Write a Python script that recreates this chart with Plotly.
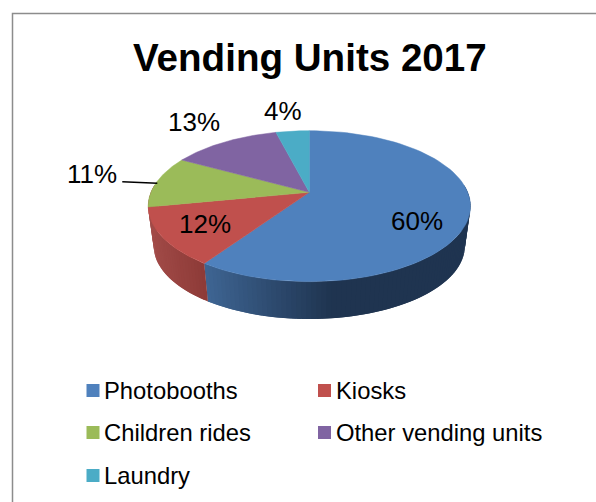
import numpy as np
import plotly.graph_objects as go

# =====================================================
# VENDING UNITS 2017 - 3D style pie
# =====================================================
categories = ['Photobooths', 'Kiosks', 'Children rides', 'Other vending units', 'Laundry']
shares = [59.5, 12.4, 11.1, 13, 4]
colors = ['#4f81bd', '#c0504d', '#9bbb59', '#8064a2', '#4bacc6']
pct_labels = ['60%', '12%', '11%', '13%', '4%']

FONT = 'Liberation Sans'

# pie projection, in page pixels
CX, CY = 309.3, 192.3
A, B, K = 158.4, 72.9, 0.184
RING_CY = 206.0
BASE_SCALE, BASE_DROP = 0.965, 40.0


def top_ring(deg):
    t = np.radians(deg)
    u, v = np.sin(t), np.cos(t)
    w = 1 + K * v
    return CX + A * u / w, CY - B * v / w


def base_ring(deg):
    x, y = top_ring(deg)
    return CX + BASE_SCALE * (x - CX), RING_CY + BASE_DROP + BASE_SCALE * (y - RING_CY)


def mix(c1, c2, f):
    f = min(max(f, 0), 1)
    return 'rgb(%d,%d,%d)' % tuple(c1[i] + (c2[i] - c1[i]) * f for i in range(3))


fig = go.Figure()

edges = np.cumsum([0] + shares) * 3.6


def add_wall(start, stop, c_from, c_to, x_from, x_span):
    # thin overlapping strips so the shading runs left to right without seams
    stops = np.linspace(start, stop, int((stop - start) / 1.5) + 1)
    for j in range(len(stops) - 1):
        a0, a1 = stops[j], stops[min(j + 2, len(stops) - 1)]
        arc = np.linspace(a0, a1, 4)
        xt, yt = top_ring(arc)
        xb, yb = base_ring(arc[::-1])
        c = mix(c_from, c_to, (xt[0] - x_from) / x_span)
        fig.add_trace(go.Scatter(
            x=np.concatenate([xt, xb, xt[:1]]), y=np.concatenate([yt, yb, yt[:1]]),
            mode='lines', fill='toself', fillcolor=c,
            line=dict(color=c, width=0), hoverinfo='skip', showlegend=False
        ))


add_wall(84, edges[1], (31, 52, 80), (63, 102, 148), 335, -130)
add_wall(edges[1], 276, (142, 59, 56), (162, 75, 72), 205, -55)

# top face
for i, cat in enumerate(categories):
    angles = np.linspace(edges[i], edges[i + 1], 80)
    xs, ys = top_ring(angles)
    fig.add_trace(go.Scatter(
        x=np.concatenate([[CX], xs, [CX]]), y=np.concatenate([[CY], ys, [CY]]),
        mode='lines', fill='toself', fillcolor=colors[i],
        line=dict(color=colors[i], width=0.5), name=cat, showlegend=False,
        hoverinfo='skip'
    ))

# leader line for the 11% label
fig.add_trace(go.Scatter(
    x=[122.3, 157.3], y=[181.7, 183.3], mode='lines',
    line=dict(color='#000000', width=1.5), hoverinfo='skip', showlegend=False
))

# legend swatches
legend_x = [93, 324.5, 93, 324.5, 93]
legend_y = [390.5, 390.5, 432.5, 432.5, 475.5]
fig.add_trace(go.Scatter(
    x=legend_x, y=legend_y, mode='markers',
    marker=dict(symbol='square', size=13, color=colors, line=dict(width=0)),
    hoverinfo='skip', showlegend=False
))

annotations = [dict(
    x=310, y=57, text='<b>Vending Units 2017</b>', showarrow=False,
    font=dict(family=FONT, size=38.6, color='#000000'), xanchor='center', yanchor='middle'
)]

label_x = [416.7, 205.3, 91.7, 194, 283.3]
label_y = [221, 224, 174, 122, 111]
for i, txt in enumerate(pct_labels):
    annotations.append(dict(
        x=label_x[i], y=label_y[i], text=txt, showarrow=False,
        font=dict(family=FONT, size=26, color='#000000'), xanchor='center', yanchor='middle'
    ))

for i, cat in enumerate(categories):
    annotations.append(dict(
        x=legend_x[i] + (8.5 if legend_x[i] < 200 else 9.5), y=legend_y[i], text=cat, showarrow=False,
        font=dict(family=FONT, size=23.8, color='#000000'), xanchor='left', yanchor='middle'
    ))

fig.update_layout(
    width=596, height=502,
    margin=dict(l=0, r=0, t=0, b=0),
    paper_bgcolor='#ffffff', plot_bgcolor='#ffffff',
    xaxis=dict(range=[0, 596], visible=False, fixedrange=True),
    yaxis=dict(range=[502, 0], visible=False, fixedrange=True),
    annotations=annotations,
    shapes=[dict(
        type='rect', x0=12.5, y0=13.5, x1=620, y1=530, layer='below',
        line=dict(color='#8c8c8c', width=1.5)
    )],
    showlegend=False
)

fig.write_html("out.html", config=dict(displayModeBar=False),
               post_script="document.body.style.margin='0';")
